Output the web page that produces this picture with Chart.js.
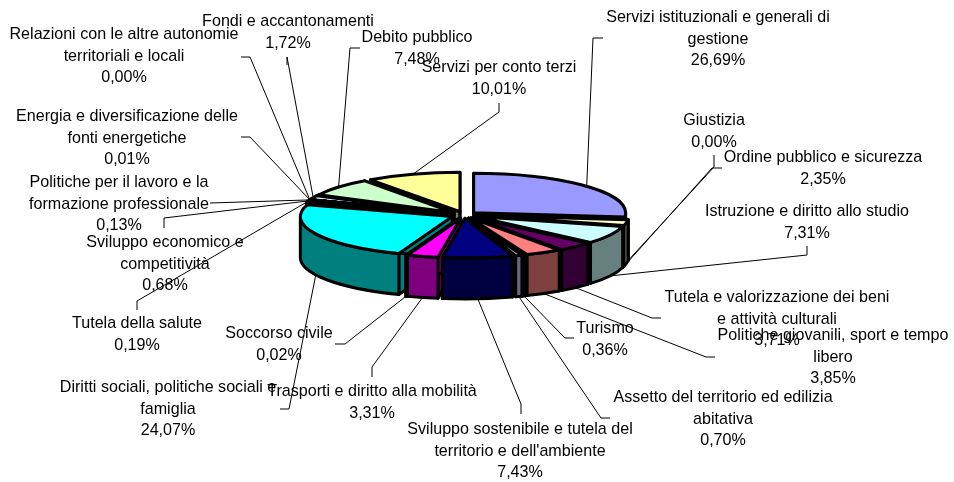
<!DOCTYPE html>
<html>
<head>
<meta charset="utf-8">
<title>Spese per missione</title>
<script src="https://cdn.jsdelivr.net/npm/chart.js@4"></script>
<style>
  html, body { margin: 0; padding: 0; background: #fff; }
  canvas { display: block; }
</style>
</head>
<body>
<canvas id="torta" width="954" height="482"></canvas>
<script>
const categorie = [
  ["Servizi istituzionali e generali di", "gestione"],
  ["Giustizia"],
  ["Ordine pubblico e sicurezza"],
  ["Istruzione e diritto allo studio"],
  ["Tutela e valorizzazione dei beni", "e attività culturali"],
  ["Politiche giovanili, sport e tempo", "libero"],
  ["Turismo"],
  ["Assetto del territorio ed edilizia", "abitativa"],
  ["Sviluppo sostenibile e tutela del", "territorio e dell'ambiente"],
  ["Trasporti e diritto alla mobilità"],
  ["Soccorso civile"],
  ["Diritti sociali, politiche sociali e", "famiglia"],
  ["Tutela della salute"],
  ["Sviluppo economico e", "competitività"],
  ["Politiche per il lavoro e la", "formazione professionale"],
  ["Energia e diversificazione delle", "fonti energetiche"],
  ["Relazioni con le altre autonomie", "territoriali e locali"],
  ["Fondi e accantonamenti"],
  ["Debito pubblico"],
  ["Servizi per conto terzi"]
];
const valori = [26.69, 0.00, 2.35, 7.31, 3.71, 3.85, 0.36, 0.70, 7.43, 3.31, 0.02, 24.07, 0.19, 0.68, 0.13, 0.01, 0.00, 1.72, 7.48, 10.01];
const colori = ["#9999FF", "#993366", "#FFFFCC", "#CCFFFF", "#660066", "#FF8080", "#0066CC", "#CCCCFF", "#000080", "#FF00FF", "#FFFF00", "#00FFFF", "#800080", "#800000", "#008080", "#0000FF", "#00CCFF", "#CCFFFF", "#CCFFCC", "#FFFF99"];

// centro della prima riga di testo di ogni etichetta
const posEtichette = [
  [718, 18], [714, 121], [823, 158], [807, 212], [777, 298], [833, 336], [605, 329], [723, 398], [520, 430], [372, 392],
  [279, 334], [168, 388], [137, 324], [165, 243], [119, 183], [127, 117], [124, 35], [288, 22], [417, 38], [499, 68]
];
// tratti delle linee guida dal lato dell'etichetta
const gomiti = [
  [[603, 38], [593, 38]], [[714, 155], [714, 167]], [[722, 168], [712, 168]], [[807, 246], [807, 255]], [[661, 318], [652, 318]],
  [[715, 357], [706, 357]], [[574, 338], [565, 338]], [[610, 418], [601, 418]], [[521, 414], [521, 404]], [[372, 377], [372, 367]],
  [[335, 344], [345, 344]], [[280, 409], [289, 409]], [[137, 310], [137, 301]], [[164, 228], [164, 218]], [[210, 203]],
  [[241, 137], [250, 137]], [[241, 57], [250, 57]], [[287, 65], [287, 57]], [[360, 48], [350, 48]], [[499, 103], [499, 112]]
];

const schiaccia = 0.26;
const profondita = 41;
const spessore = 3;

function scurisci(hex) {
  const n = parseInt(hex.slice(1), 16);
  return `rgb(${(n >> 16) >> 1},${((n >> 8) & 255) >> 1},${(n & 255) >> 1})`;
}

function centroFetta(arc) {
  const medio = (arc.startAngle + arc.endAngle) / 2;
  const off = arc.options.offset;
  return {
    x: arc.x + Math.cos(medio) * off,
    y: arc.y + Math.sin(medio) * off * schiaccia
  };
}

function disegnaFetta(ctx, arc) {
  const c = centroFetta(arc);
  const rx = arc.outerRadius;
  const ry = rx * schiaccia;
  const a0 = arc.startAngle;
  const a1 = arc.endAngle;
  const colore = arc.options.backgroundColor;
  const scuro = scurisci(colore);

  ctx.lineWidth = spessore;
  ctx.lineJoin = "round";
  ctx.strokeStyle = "#000";
  ctx.fillStyle = scuro;

  // facce radiali
  [a0, a1].forEach(a => {
    const px = c.x + Math.cos(a) * rx;
    const py = c.y + Math.sin(a) * ry;
    ctx.beginPath();
    ctx.moveTo(c.x, c.y);
    ctx.lineTo(px, py);
    ctx.lineTo(px, py + profondita);
    ctx.lineTo(c.x, c.y + profondita);
    ctx.closePath();
    ctx.fill();
    ctx.stroke();
  });

  // parete esterna, solo la parte davanti
  const da = Math.max(a0, 0);
  const fino = Math.min(a1, Math.PI);
  if (fino > da) {
    ctx.beginPath();
    ctx.ellipse(c.x, c.y, rx, ry, 0, da, fino);
    ctx.ellipse(c.x, c.y + profondita, rx, ry, 0, fino, da, true);
    ctx.closePath();
    ctx.fill();
    ctx.stroke();
  }

  // faccia superiore
  ctx.fillStyle = colore;
  ctx.beginPath();
  ctx.moveTo(c.x, c.y);
  ctx.ellipse(c.x, c.y, rx, ry, 0, a0, a1);
  ctx.closePath();
  ctx.fill();
  ctx.stroke();
}

function puntoBordo(arc) {
  const c = centroFetta(arc);
  const medio = (arc.startAngle + arc.endAngle) / 2;
  const s = Math.sin(medio);
  return {
    x: c.x + Math.cos(medio) * arc.outerRadius,
    y: c.y + s * arc.outerRadius * schiaccia + (s > 0 ? profondita : 0)
  };
}

const tortaTreD = {
  id: "tortaTreD",
  beforeDatasetDraw(chart) {
    const ctx = chart.ctx;
    const archi = chart.getDatasetMeta(0).data;
    // dal fondo verso il davanti
    const ordine = archi.slice().sort((a, b) =>
      Math.sin((a.startAngle + a.endAngle) / 2) - Math.sin((b.startAngle + b.endAngle) / 2));
    ctx.save();
    ordine.forEach(arc => disegnaFetta(ctx, arc));
    ctx.restore();
    return false;
  },
  afterDatasetsDraw(chart) {
    const ctx = chart.ctx;
    const archi = chart.getDatasetMeta(0).data;
    ctx.save();
    ctx.strokeStyle = "#000";
    ctx.lineWidth = 1;
    archi.forEach((arc, i) => {
      const p = puntoBordo(arc);
      ctx.beginPath();
      gomiti[i].forEach((g, k) => k ? ctx.lineTo(g[0], g[1]) : ctx.moveTo(g[0], g[1]));
      ctx.lineTo(p.x, p.y);
      ctx.stroke();
    });

    ctx.fillStyle = "#000";
    ctx.font = '16.1px "Liberation Sans"';
    ctx.textAlign = "center";
    ctx.textBaseline = "middle";
    categorie.forEach((righe, i) => {
      const testo = righe.concat(valori[i].toFixed(2).replace(".", ",") + "%");
      testo.forEach((riga, k) => {
        ctx.fillText(riga, posEtichette[i][0], posEtichette[i][1] + k * 21.5);
      });
    });
    ctx.restore();
  }
};

new Chart(document.getElementById("torta"), {
  type: "pie",
  data: {
    labels: categorie,
    datasets: [{
      data: valori,
      backgroundColor: colori,
      borderColor: "#000",
      borderWidth: spessore,
      offset: 13
    }]
  },
  options: {
    responsive: false,
    animation: false,
    radius: 152,
    layout: { padding: { right: 26, bottom: 52 } },
    plugins: {
      legend: { display: false },
      tooltip: { enabled: false }
    }
  },
  plugins: [tortaTreD]
});
</script>
</body>
</html>
